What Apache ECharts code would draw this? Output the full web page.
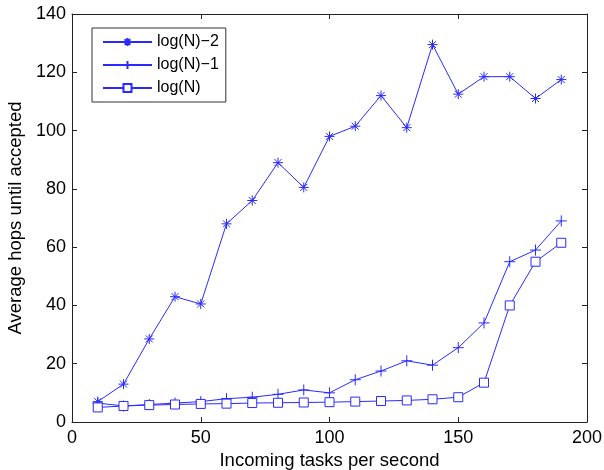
<!DOCTYPE html>
<html>
<head>
<meta charset="utf-8">
<script src="https://cdn.jsdelivr.net/npm/echarts@6/dist/echarts.min.js"></script>
<style>html,body{margin:0;padding:0;background:#fff}#c{width:604px;height:470px}</style>
</head>
<body>
<div id="c"></div>
<script>
const xValues = [10,20,30,40,50,60,70,80,90,100,110,120,130,140,150,160,170,180,190];
const seriesNames = ['log(N)\u22122','log(N)\u22121','log(N)'];
const logNminus2 = [7,13,28.5,43,40.5,68,76,89,80.5,98,101.5,112,101,129.5,112.5,118.5,118.5,111,117.5];
const logNminus1 = [6.5,5.5,6,6.5,7,8,8.5,9.5,11,10,14.5,17.5,21,19.5,25.5,34,55,59,69];
const logN = [5,5.5,5.8,6,6.2,6.3,6.5,6.6,6.7,6.8,7,7.2,7.4,7.8,8.5,13.5,40,55,61.5];
const xTicks = [0,50,100,150,200];
const yTicks = [0,20,40,60,80,100,120,140];

const blue = '#2a2aff';
const font = 'Liberation Sans, Arial, Helvetica, sans-serif';
const star = 'path://M0,-1L0,1M-1,0L1,0M-0.7,-0.7L0.7,0.7M-0.7,0.7L0.7,-0.7';
const plus = 'path://M0,-1L0,1M-1,0L1,0';
const pair = a => xValues.map((x,i)=>[x,a[i]]);

function mk(name, data, symbol, size, empty){
  return {
    name, type:'line', data: pair(data), symbol, symbolSize:size,
    lineStyle:{color:blue,width:1},
    itemStyle:{color: empty ? '#fff' : blue, borderColor:blue, borderWidth:1},
    emphasis:{disabled:true}, animation:false
  };
}
const axisCommon = () => ({
  axisLine:{show:true,onZero:false,lineStyle:{color:'#222',width:1}},
  axisTick:{show:true,inside:true,length:5,lineStyle:{color:'#222'}},
  splitLine:{show:false}
});
const chart = echarts.init(document.getElementById('c'));
chart.setOption({
  animation:false,
  grid:{left:72,right:17,top:14,bottom:48,containLabel:false,outerBoundsMode:'none'},
  legend:{
    orient:'vertical', left:92, top:28, data:seriesNames,
    itemWidth:49, itemHeight:10, itemGap:7,
    borderColor:'#333', borderWidth:1, padding:[6,7,6,10],
    textStyle:{fontFamily:font,fontSize:16,color:'#000'},
    backgroundColor:'#fff'
  },
  xAxis:[
    Object.assign({type:'value',min:xTicks[0],max:xTicks[xTicks.length-1],interval:50,position:'bottom',
      name:'Incoming tasks per second',nameLocation:'middle',nameGap:29,
      nameTextStyle:{fontFamily:font,fontSize:18.5,color:'#000'},
      axisLabel:{fontFamily:font,fontSize:18,color:'#000',margin:7}},axisCommon()),
    Object.assign({type:'value',min:0,max:200,interval:50,position:'top',
      axisLabel:{show:false}},axisCommon())
  ],
  yAxis:[
    Object.assign({type:'value',min:yTicks[0],max:yTicks[yTicks.length-1],interval:20,position:'left',
      name:'Average hops until accepted',nameLocation:'middle',nameGap:44,
      nameTextStyle:{fontFamily:font,fontSize:18.5,color:'#000'},
      axisLabel:{fontFamily:font,fontSize:18,color:'#000',margin:6}},axisCommon()),
    Object.assign({type:'value',min:0,max:140,interval:20,position:'right',
      axisLabel:{show:false}},axisCommon())
  ],
  series:[
    mk(seriesNames[0], logNminus2, star, 10, false),
    mk(seriesNames[1], logNminus1, plus, 11, false),
    mk(seriesNames[2], logN, 'rect', 9, true)
  ]
});
</script>
</body>
</html>
